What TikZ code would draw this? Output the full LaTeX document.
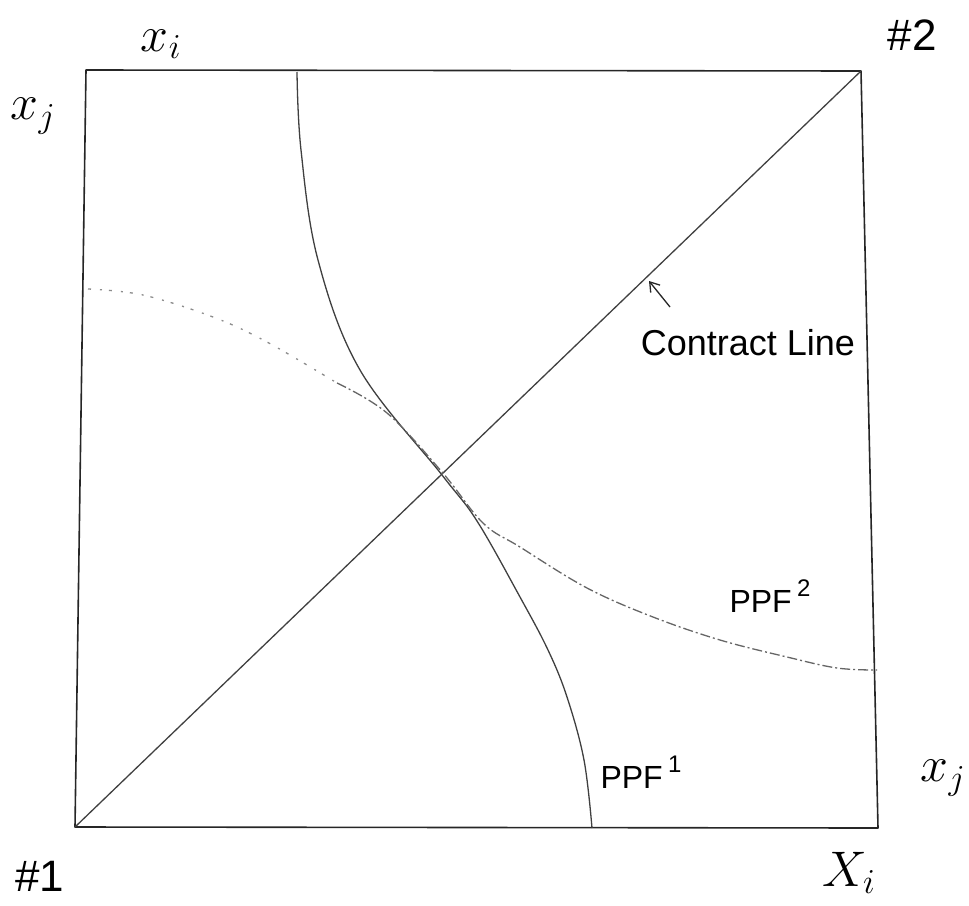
\RequirePackage{fix-cm}
\documentclass[tikz,border=0pt]{standalone}
\usepackage{fontspec}
\setmainfont{Liberation Sans}
\usetikzlibrary{arrows.meta}
\tikzset{
  boxline/.style={line width=1.6pt, black!85, line join=round},
  contractline/.style={line width=1.3pt, black!75},
  ppfone/.style={line width=1.3pt, black!75},
  ppftwosparse/.style={line width=1.3pt, black!45, dash pattern=on 3pt off 9pt on 2pt off 7pt},
  ppftwo/.style={line width=1.3pt, black!60, dash pattern=on 10pt off 3pt on 2pt off 3pt},
  lbl/.style={inner sep=0pt, font=\fontsize{36}{40}\selectfont},
  mathlbl/.style={inner sep=0pt, font=\fontsize{50}{54}\selectfont},
  arrowline/.style={line width=1.3pt, black!85, -{Straight Barb[length=9pt,width=12pt]}}
}
\newcommand{\supnum}[1]{\raisebox{0.5em}{\fontsize{24}{26}\selectfont #1}}
\begin{document}
\begin{tikzpicture}[x=1pt,y=-1pt]
\useasboundingbox (0,0) rectangle (969,905);
% box
\coordinate (BL) at (75,827);
\coordinate (TL) at (86,70);
\coordinate (TR) at (861,71);
\coordinate (BR) at (878,828);
\draw[boxline] (BL) -- (TL) -- (TR) -- (BR) -- cycle;
% contract line
\draw[contractline] (BL) -- (TR);
% PPF 1
\draw[ppfone] plot[smooth, tension=0.6] coordinates {(297,72) (301,150) (318,260) (360,370) (442,475) (477,521) (520,597) (548,650) (567,697) (584,760) (592,828)};
% PPF 2
\draw[ppftwosparse] plot[smooth, tension=0.6] coordinates {(88,289) (143,295) (213,317) (267,342) (337,383)};
\draw[ppftwo] plot[smooth, tension=0.6] coordinates {(337,383) (387,413) (442,472) (483,523) (520,547) (587,588) (653,617) (720,640) (787,657) (837,668) (877,670)};
% labels
\node[mathlbl] (xitop) at (161,44) {$x_i$};
\node[mathlbl] (xjleft) at (33,116) {$x_j$};
\node[lbl, font=\fontsize{44}{48}\selectfont] (two) at (912,35) {\#2};
\node[lbl, font=\fontsize{44}{48}\selectfont] (one) at (40,876) {\#1};
\node[mathlbl] (xjright) at (943,778) {$x_j$};
\node[mathlbl] (xibottom) at (849,873) {$X_i$};
\node[lbl, font=\fontsize{32}{36}\selectfont] (ppf1) at (641,772) {PPF\,\supnum{1}};
\node[lbl, font=\fontsize{32}{36}\selectfont] (ppf2) at (770,596) {PPF\,\supnum{2}};
\node[lbl] (contract) at (748,343) {Contract Line};
% arrow
\coordinate (arrtail) at (670,307);
\coordinate (arrhead) at (649,281);
\draw[arrowline] (arrtail) -- (arrhead);
\end{tikzpicture}
\end{document}
